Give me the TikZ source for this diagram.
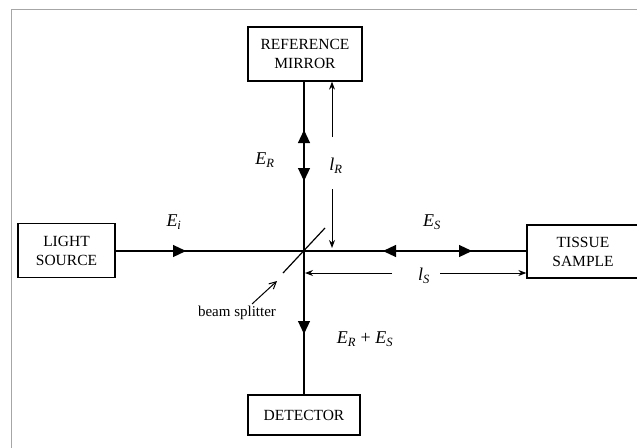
\documentclass[tikz,border=0pt]{standalone}
\usepackage{fontspec}
\setmainfont{Liberation Serif}
\usetikzlibrary{arrows.meta}
\newcommand{\lbl}[2]{\textit{#1}\textsubscript{\textit{#2}}}
\begin{document}
\begin{tikzpicture}[x=1pt,y=-1pt,
  box/.style={draw,line width=1.3pt,align=center,inner sep=0pt,font=\fontsize{15.5}{19}\selectfont},
  beam/.style={line width=1.2pt},
  tri/.style={-{Triangle[length=13pt,width=12pt]}},
  len/.style={line width=1pt,-{Stealth[length=8pt,width=6pt]}},
  lab/.style={font=\fontsize{18}{20}\selectfont}]
\useasboundingbox (0,0) rectangle (637,447);
\draw[gray!70,line width=0.8pt] (11,9) rectangle (660,470);
\node[box,minimum width=114pt,minimum height=54pt] (mir) at (305,54) {REFERENCE\\MIRROR};
\node[box,minimum width=97pt,minimum height=54pt] (src) at (66.5,250.5) {LIGHT\\SOURCE};
\node[box,minimum width=112pt,minimum height=53pt] (tis) at (583,251.5) {TISSUE\\SAMPLE};
\node[box,minimum width=112pt,minimum height=40pt] (det) at (304,415) {DETECTOR};
\coordinate (c) at (304,251);
% main beams
\draw[beam] (src.east|-c) -- (tis.west|-c);
\draw[beam] (mir.south-|c) -- (det.north-|c);
% triangle arrowheads
\coordinate (a1s) at (170,251); \coordinate (a1e) at (186,251);
\draw[beam,tri] (a1s) -- (a1e);
\coordinate (a2s) at (400,251); \coordinate (a2e) at (383,251);
\draw[beam,tri] (a2s) -- (a2e);
\coordinate (a3s) at (455,251); \coordinate (a3e) at (472,251);
\draw[beam,tri] (a3s) -- (a3e);
\coordinate (a4s) at (304,145); \coordinate (a4e) at (304,130);
\draw[beam,tri] (a4s) -- (a4e);
\coordinate (a5s) at (304,165); \coordinate (a5e) at (304,181);
\draw[beam,tri] (a5s) -- (a5e);
\coordinate (a6s) at (304,318); \coordinate (a6e) at (304,334);
\draw[beam,tri] (a6s) -- (a6e);
% path length arrows
\coordinate (r1) at (332,137); \coordinate (r2) at (332,189); \coordinate (r3) at (332,248);
\draw[len] (r1) -- (r1|-mir.south);
\draw[len] (r2) -- (r3);
\coordinate (s1) at (392,273); \coordinate (s2) at (305,273); \coordinate (s3) at (440,273);
\draw[len] (s1) -- (s2);
\draw[len] (s3) -- (s3-|tis.west);
% beam splitter
\coordinate (bs1) at (283,273); \coordinate (bs2) at (325,228);
\draw[line width=1.2pt] (bs1) -- (bs2);
\coordinate (bp1) at (252,304); \coordinate (bp2) at (277,281);
\draw[line width=1pt,-{Straight Barb[length=7pt,width=7pt]}] (bp1) -- (bp2);
\node[font=\fontsize{15}{17}\selectfont] (bsl) at (237,313) {beam splitter};
% labels
\node[lab] (ei) at (174,222) {\lbl{E}{i}};
\node[lab] (er) at (265,160) {\lbl{E}{R}};
\node[lab] (lr) at (336,166) {\lbl{l}{R}};
\node[lab] (es) at (432,222) {\lbl{E}{S}};
\node[lab] (ls) at (424,276) {\lbl{l}{S}};
\node[lab] (ers) at (365,339) {\lbl{E}{R} + \lbl{E}{S}};
\end{tikzpicture}
\end{document}
